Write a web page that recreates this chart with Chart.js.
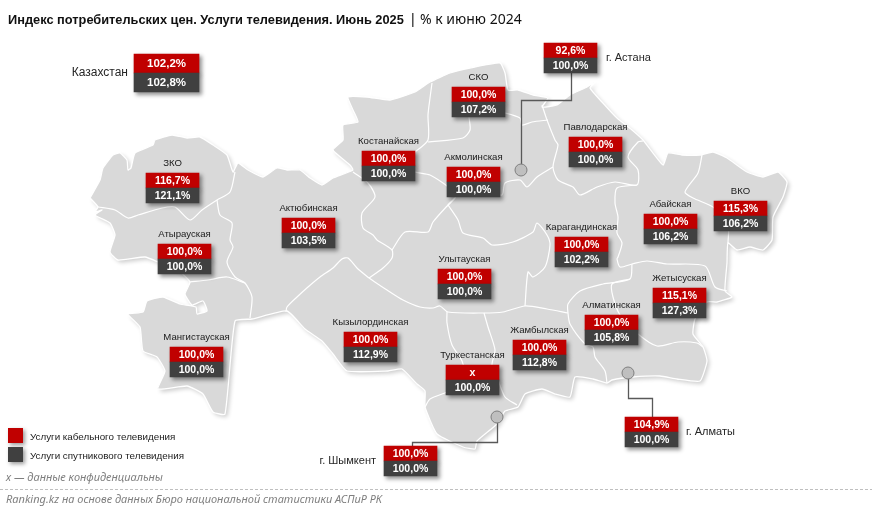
<!DOCTYPE html>
<html>
<head>
<meta charset="utf-8">
<style>
html, body { margin: 0; padding: 0; background: #fff; }
canvas { display: block; }
</style>
<script src="https://cdn.jsdelivr.net/npm/chart.js@4"></script>
</head>
<body>
<canvas id="chart" width="872" height="514"></canvas>
<script>
var regions = ['ЗКО', 'Костанайская', 'Актюбинская', 'Атырауская', 'СКО', 'Павлодарская', 'Акмолинская', 'Абайская', 'ВКО', 'Карагандинская', 'Улытауская', 'Жетысуская', 'Алматинская', 'Жамбылская', 'Туркестанская', 'Кызылординская', 'Мангистауская', 'г. Астана', 'г. Алматы', 'г. Шымкент'];
var cableValues = [116.7, 100, 100, 100, 100, 100, 100, 100, 115.3, 100, 100, 115.1, 100, 100, null, 100, 100, 92.6, 104.9, 100];
var satelliteValues = [121.1, 100, 103.5, 100, 107.2, 100, 100, 106.2, 106.2, 102.2, 100, 127.3, 105.8, 112.8, 100, 112.9, 100, 100, 100, 100];
var countryName = 'Казахстан';
var countryCable = 102.2;
var countrySatellite = 102.8;
var seriesNames = ['Услуги кабельного телевидения', 'Услуги спутникового телевидения'];

// left and top of every value box, same order as regions
var boxLeft = [146, 362, 282, 158, 452, 569, 447, 644, 714, 555, 438, 653, 585, 513, 446, 344, 170, 544, 625, 384];
var boxTop = [173, 151, 218, 244, 87, 137, 167, 214, 201, 237, 269, 288, 315, 340, 365, 332, 347, 43, 417, 446];

var RED = '#c00000';
var DARK = '#404040';

var mapOutline = [[90,198],[100,180],[103,168],[113,155],[120,153],[127,160],[128,170],[131,168],[135,153],[153,145],[155,140],[172,135],[187,138],[200,137],[213,145],[227,155],[233,172],[238,163],[248,170],[263,177],[277,168],[287,170],[300,170],[310,178],[322,185],[333,178],[353,170],[350,165],[333,150],[343,140],[343,125],[358,122],[353,110],[348,97],[367,97],[390,100],[415,92],[430,82],[450,73],[470,68],[500,63],[505,73],[508,90],[518,90],[533,95],[548,98],[542,107],[557,105],[570,95],[587,87],[595,82],[590,88],[602,102],[617,118],[632,130],[643,140],[663,165],[668,153],[682,155],[700,155],[713,152],[727,158],[747,172],[763,177],[778,172],[787,182],[783,197],[773,217],[772,240],[763,250],[750,247],[737,250],[728,243],[727,263],[725,291],[732,297],[717,302],[707,302],[695,319],[693,334],[703,347],[707,361],[700,381],[677,379],[660,376],[633,377],[612,380],[607,383],[593,379],[575,377],[570,397],[555,394],[542,389],[525,394],[518,407],[505,411],[497,424],[477,441],[475,449],[463,447],[437,434],[425,407],[425,391],[417,384],[402,369],[388,371],[347,371],[333,354],[322,341],[305,329],[287,311],[252,319],[235,321],[225,414],[213,412],[203,394],[187,386],[158,389],[165,371],[157,357],[143,351],[140,327],[128,314],[143,312],[147,301],[163,297],[180,304],[196,307],[197,314],[207,311],[203,301],[192,305],[185,294],[190,282],[180,272],[158,262],[145,257],[118,260],[110,252],[115,235],[110,223],[95,215],[102,210],[95,212],[98,207],[90,198]];

var mapBorders = [
    [[98,207],[115,210],[128,218],[138,215],[162,208],[175,207],[190,220],[202,210],[217,200],[230,192],[235,172]],
    [[217,200],[220,215],[232,223],[230,240],[233,247],[227,262],[235,277],[245,283],[252,297],[250,318]],
    [[190,282],[208,280],[227,277],[245,283]],
    [[353,172],[368,183],[375,197],[362,213],[363,228],[373,235],[377,240],[392,250],[392,258],[383,268],[369,278]],
    [[369,278],[357,268],[348,258],[342,259],[333,268],[320,277],[308,287],[297,297],[287,307],[286,312]],
    [[392,250],[405,232],[428,232],[433,222],[448,205],[455,198]],
    [[432,83],[430,98],[428,115],[428,140],[415,152],[400,165],[415,172],[430,175],[443,183],[452,190]],
    [[428,142],[463,138],[470,130],[469,117]],
    [[469,117],[480,108],[505,113],[520,118],[522,125],[532,122],[548,120]],
    [[542,105],[547,120],[555,140],[558,145],[553,167],[558,180],[573,187],[580,195],[597,187],[615,182],[637,185],[638,170],[628,157],[638,142],[643,141]],
    [[553,167],[537,177],[527,187],[520,180],[505,183],[502,195],[490,192],[460,190],[455,198],[448,205]],
    [[448,205],[458,220],[463,233],[483,238],[492,245],[513,242],[533,232],[537,223],[547,235],[550,245],[545,267],[533,277],[528,272],[525,306]],
    [[369,278],[387,290],[403,300],[420,307],[433,308],[440,306],[448,312],[483,313],[503,312],[525,306],[547,309],[568,313]],
    [[637,185],[617,188],[615,203],[618,217],[617,233],[622,243],[618,257],[617,259],[620,267],[632,264],[647,261],[667,264],[705,266],[715,287],[727,291]],
    [[632,264],[630,279],[603,284],[580,291],[568,304],[568,313],[570,324],[585,344],[593,347],[595,357],[605,371],[607,383]],
    [[630,279],[612,284],[613,297],[620,315],[638,334],[657,346],[678,342],[697,343],[703,347]],
    [[728,243],[728,223],[713,207],[693,198],[685,192],[698,173],[702,155]],
    [[484,313],[488,327],[495,350],[492,365],[498,380],[505,397],[517,405]],
    [[447,312],[447,323],[452,345],[462,361],[465,380],[447,392],[430,399],[425,407]]
];

var leaders = [
    [[571.5,73],[571.5,100.5],[521.5,100.5],[521.5,170]],
    [[628.5,373],[628.5,398.5],[652.5,398.5],[652.5,417]],
    [[497.5,417],[497.5,442.5],[412.5,442.5],[412.5,446]]
];
var cityDots = [[521,170], [628,373], [497,417]];

function toPoints(list) {
    return list.map(function(p) { return { x: p[0], y: p[1] }; });
}

function formatValue(v) {
    return v === null ? 'x' : v.toFixed(1).replace('.', ',') + '%';
}

function lineDataset(points, color, width, order) {
    return { type: 'scatter', data: toPoints(points), showLine: true, borderColor: color, borderWidth: width, pointRadius: 0, order: order };
}

function boxDataset(values, offset, color, order) {
    return {
        type: 'bar',
        data: values.map(function(v, i) { return { x: boxLeft[i] + 26.5, y: [boxTop[i] + offset, boxTop[i] + offset + 15] }; }),
        backgroundColor: color,
        barThickness: 53,
        grouped: false,
        order: order
    };
}

function countryBox(offset, color, order) {
    return {
        type: 'bar',
        data: [{ x: 166.5, y: [54 + offset, 54 + offset + 19] }],
        backgroundColor: color,
        barThickness: 65,
        grouped: false,
        order: order
    };
}

var datasets = [];
// fill only: this one carries the soft shadow, the white coast goes on top without it
datasets.push({ type: 'scatter', data: toPoints(mapOutline), showLine: true, fill: 'shape', backgroundColor: '#d9d9d9', borderWidth: 0, pointRadius: 0, tension: 0.15, order: 21 });
var coast = lineDataset(mapOutline, '#fff', 1.3, 20);
coast.tension = 0.15;
datasets.push(coast);
mapBorders.forEach(function(b) {
    var d = lineDataset(b, '#fff', 1.2, 10);
    d.tension = 0.25;
    datasets.push(d);
});
leaders.forEach(function(l) {
    datasets.push(lineDataset(l, '#595959', 1.3, 6));
});
datasets.push({ type: 'scatter', data: toPoints(cityDots), pointRadius: 6, backgroundColor: '#bfbfbf', borderColor: '#7f7f7f', borderWidth: 1, order: 5 });
var firstBox = datasets.length;
datasets.push(boxDataset(cableValues, 0, RED, 4));
datasets.push(boxDataset(satelliteValues, 15, DARK, 3));
datasets.push(countryBox(0, RED, 2));
datasets.push(countryBox(19, DARK, 1));

function setShadow(ctx, alpha, dist) {
    ctx.shadowColor = alpha ? 'rgba(0,0,0,' + alpha + ')' : 'transparent';
    ctx.shadowBlur = alpha ? 4 : 0;
    ctx.shadowOffsetX = alpha ? dist : 0;
    ctx.shadowOffsetY = alpha ? dist : 0;
}

function drawText(ctx, text, x, y, font, color, align) {
    ctx.font = font;
    ctx.fillStyle = color;
    ctx.textAlign = align || 'center';
    ctx.textBaseline = 'middle';
    ctx.fillText(text, x, y);
}

var textPlugin = {
    id: 'mapText',
    beforeDatasetsDraw: function(chart) {
        setShadow(chart.ctx, 0.2, 2.5);
    },
    beforeDatasetDraw: function(chart, args) {
        if (args.index >= firstBox) setShadow(chart.ctx, 0.42, 2.5);
    },
    afterDatasetDraw: function(chart) {
        setShadow(chart.ctx, 0);
    },
    afterDatasetsDraw: function(chart) {
        var ctx = chart.ctx;
        var LABEL = '9.6px "Liberation Sans"';
        var VALUE = 'bold 10.5px "Liberation Sans"';
        var x = chart.scales.x, y = chart.scales.y;
        ctx.save();

        regions.forEach(function(name, i) {
            var cx = x.getPixelForValue(boxLeft[i] + 26.5);
            var top = y.getPixelForValue(boxTop[i]);
            drawText(ctx, formatValue(cableValues[i]), cx, top + 8, VALUE, '#fff');
            drawText(ctx, formatValue(satelliteValues[i]), cx, top + 23, VALUE, '#fff');
            if (name.indexOf('г. ') === 0) return;
            drawText(ctx, name, cx, top - 10, LABEL, '#1a1a1a');
        });

        var CITY = '11px "Liberation Sans"';
        drawText(ctx, regions[17], 606, 57.5, CITY, '#262626', 'left');
        drawText(ctx, regions[18], 686, 431.5, CITY, '#262626', 'left');
        drawText(ctx, regions[19], 376, 460.5, CITY, '#262626', 'right');

        drawText(ctx, countryName, 128, 72.5, '12px "Liberation Sans"', '#262626', 'right');
        drawText(ctx, formatValue(countryCable), 166.5, 64, 'bold 11.5px "Liberation Sans"', '#fff');
        drawText(ctx, formatValue(countrySatellite), 166.5, 83, 'bold 11.5px "Liberation Sans"', '#fff');

        // title
        drawText(ctx, 'Индекс потребительских цен. Услуги телевидения. Июнь 2025', 8, 20, 'bold 12.8px "Liberation Sans"', '#111', 'left');
        drawText(ctx, '|', 411, 20, '14px "Liberation Sans"', '#111', 'left');
        drawText(ctx, '% к июню 2024', 420, 20, '14px "Noto Sans"', '#111', 'left');

        // legend
        [RED, DARK].forEach(function(color, i) {
            var top = 428 + i * 19;
            setShadow(ctx, 0.4, 2);
            ctx.fillStyle = color;
            ctx.fillRect(8, top, 15, 15);
            setShadow(ctx, 0);
            drawText(ctx, seriesNames[i], 30, top + 9, '9.8px "Liberation Sans"', '#1a1a1a', 'left');
        });

        drawText(ctx, 'х — данные конфиденциальны', 6, 478, 'italic 11px "Noto Sans"', '#7f7f7f', 'left');

        ctx.strokeStyle = '#bfbfbf';
        ctx.lineWidth = 1;
        ctx.setLineDash([3, 2]);
        ctx.beginPath();
        ctx.moveTo(0, 489.5);
        ctx.lineTo(872, 489.5);
        ctx.stroke();
        ctx.setLineDash([]);

        drawText(ctx, 'Ranking.kz на основе данных Бюро национальной статистики АСПиР РК', 6, 500, 'italic 11px "Noto Sans"', '#7f7f7f', 'left');
        ctx.restore();
    }
};

new Chart(document.getElementById('chart').getContext('2d'), {
    type: 'scatter',
    data: { datasets: datasets },
    plugins: [textPlugin],
    options: {
        responsive: false,
        animation: false,
        devicePixelRatio: 1,
        layout: { padding: 0, autoPadding: false },
        plugins: { legend: { display: false }, tooltip: { enabled: false } },
        scales: {
            x: { type: 'linear', min: 0, max: 872, offset: false, display: false },
            y: { type: 'linear', min: 0, max: 514, reverse: true, display: false }
        }
    }
});
</script>
</body>
</html>
